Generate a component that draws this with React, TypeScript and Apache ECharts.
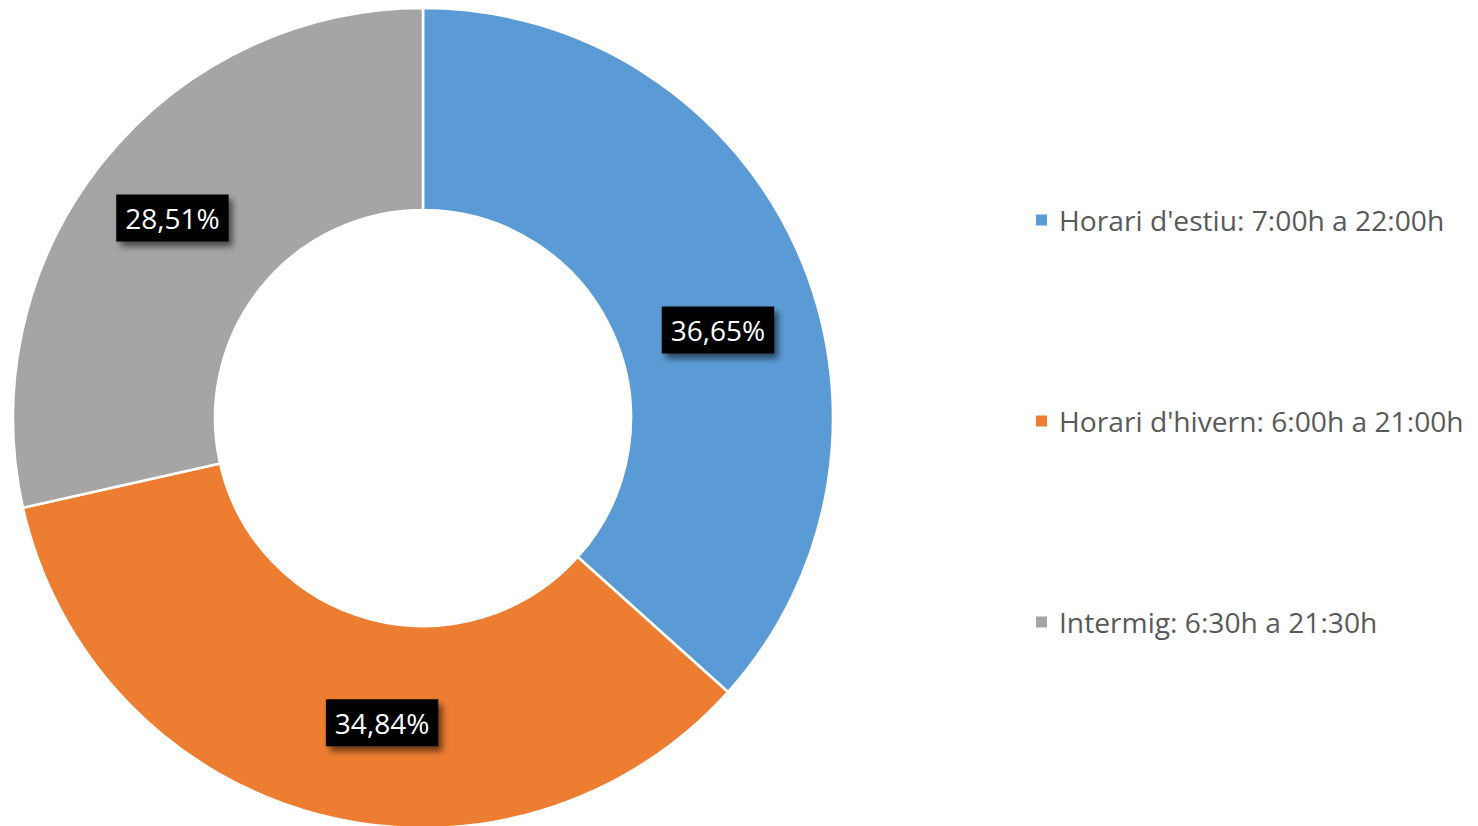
import React, { useEffect, useRef } from "react";
import * as echarts from "echarts";

const categories = [
  "Horari d'estiu: 7:00h a 22:00h",
  "Horari d'hivern: 6:00h a 21:00h",
  "Intermig: 6:30h a 21:30h",
];
const values = [36.65, 34.84, 28.51];
const colors = ["#5B9BD5", "#ED7D31", "#A5A5A5"];
const labelShift = [
  [10, 39],
  [38, 3],
  [-7, -5],
];

export default function App() {
  const ref = useRef<HTMLDivElement>(null);
  useEffect(() => {
    if (!ref.current) return;
    const chart = echarts.init(ref.current, null, { renderer: "svg" });
    chart.setOption({
      animation: false,
      backgroundColor: "#fff",
      legend: {
        orient: "vertical",
        left: 1034,
        top: 205,
        padding: 0,
        itemWidth: 13,
        itemHeight: 13,
        itemGap: 171,
        icon: "rect",
        textStyle: {
          fontFamily: "Open Sans",
          fontSize: 28.2,
          color: "#595959",
          lineHeight: 30,
          padding: [0, 0, 0, 6],
        },
        data: categories,
      },
      series: [
        {
          type: "pie",
          center: [423, 418],
          radius: [208, 410],
          startAngle: 90,
          clockwise: true,
          itemStyle: { borderColor: "#fff", borderWidth: 2.5 },
          label: {
            show: true,
            position: "inside",
            formatter: (p: any) => p.value.toFixed(2).replace(".", ",") + "%",
            color: "#fff",
            fontFamily: "Open Sans",
            fontSize: 28,
            lineHeight: 33,
            backgroundColor: "#000",
            padding: [7, 9, 7, 9],
            shadowColor: "rgba(0,0,0,0.55)",
            shadowBlur: 6,
            shadowOffsetX: 4,
            shadowOffsetY: 5,
          },
          labelLine: { show: false },
          emphasis: { disabled: true },
          labelLayout: (p: any) => ({
            dx: labelShift[p.dataIndex][0],
            dy: labelShift[p.dataIndex][1],
          }),
          data: categories.map((c, i) => ({
            name: c,
            value: values[i],
            itemStyle: { color: colors[i] },
          })),
        },
      ],
    });
    return () => chart.dispose();
  }, []);
  return (
    <div
      ref={ref}
      style={{ position: "fixed", left: 0, top: 0, width: 1478, height: 826 }}
    />
  );
}
